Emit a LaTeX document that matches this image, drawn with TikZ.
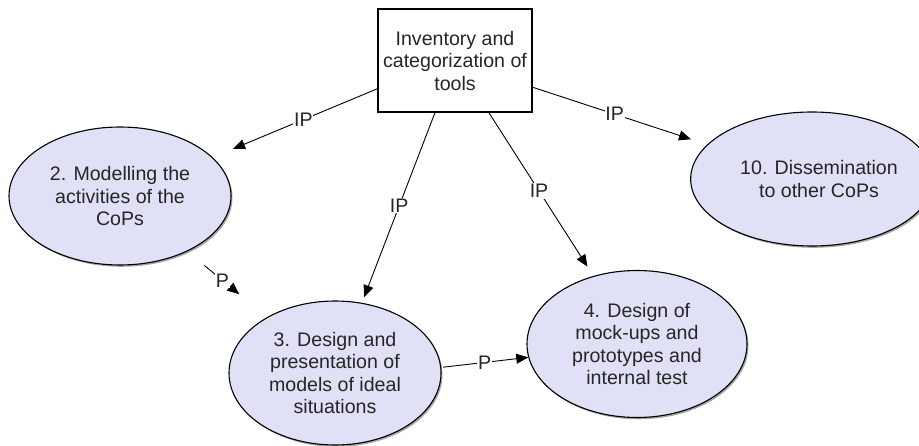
\documentclass[tikz,border=0pt]{standalone}
\usepackage{fontspec}
\setmainfont{Liberation Sans}
\usetikzlibrary{shapes.geometric,arrows.meta,shadows}
\definecolor{lav}{RGB}{224,224,246}
\begin{document}
\begin{tikzpicture}[x=1pt,y=-1pt,
  txt/.style={font=\fontsize{19.6}{22.5}\selectfont, align=center, text=black!85},
  topbox/.style={txt, draw=black, line width=1.1pt, fill=white, minimum width=154pt, minimum height=103pt, inner sep=0pt},
  oval/.style={txt, ellipse, draw=black, line width=1.1pt, fill=lav, inner sep=0pt,
    drop shadow={shadow xshift=1.5pt, shadow yshift=-1.8pt, fill=black, opacity=0.35}},
  arr/.style={line width=0.9pt, -{Triangle[length=12pt,width=10pt]}},
  lbl/.style={font=\fontsize{19.6}{22}\selectfont, fill=white, inner sep=0.8pt, text=black!85}
]
\useasboundingbox (0,0) rectangle (919,446);
\node[topbox] (box) at (455,60.5) {Inventory and\\categorization of\\tools};
\node[oval, minimum width=222pt, minimum height=138pt] (e2) at (120,196) {2. Modelling the\\activities of the\\CoPs};
\node[oval, minimum width=212pt, minimum height=144pt] (e3) at (335,373) {3. Design and\\presentation of\\models of ideal\\situations};
\node[oval, minimum width=220pt, minimum height=147pt] (e4) at (637,344) {4. Design of\\mock-ups and\\prototypes and\\internal test};
\node[oval, minimum width=210pt, minimum height=134pt] (e10) at (812,179) {\hspace*{14pt}10. Dissemination\\\hspace*{14pt}to other CoPs};

\draw[arr, shorten >=22pt] (box.200) -- node[lbl, pos=0.45] (l1) {IP} (e2);
\draw[arr, shorten >=6pt] (box.249) -- node[lbl, pos=0.49] (l2) {IP} (e3);
\draw[arr, shorten >=11pt] (box.303) -- node[lbl, pos=0.48] (l3) {IP} (e4);
\draw[arr, shorten >=17pt] (box.-19) -- node[lbl, pos=0.47] (l4) {IP} (e10);
\draw[arr, shorten <=22pt, shorten >=36pt] (e2) -- node[lbl, pos=0.44] (l5) {P} (e3);
\draw[arr, shorten <=2pt] (e3.3) -- node[lbl, pos=0.5] (l6) {P} (e4.187);
\end{tikzpicture}
\end{document}
